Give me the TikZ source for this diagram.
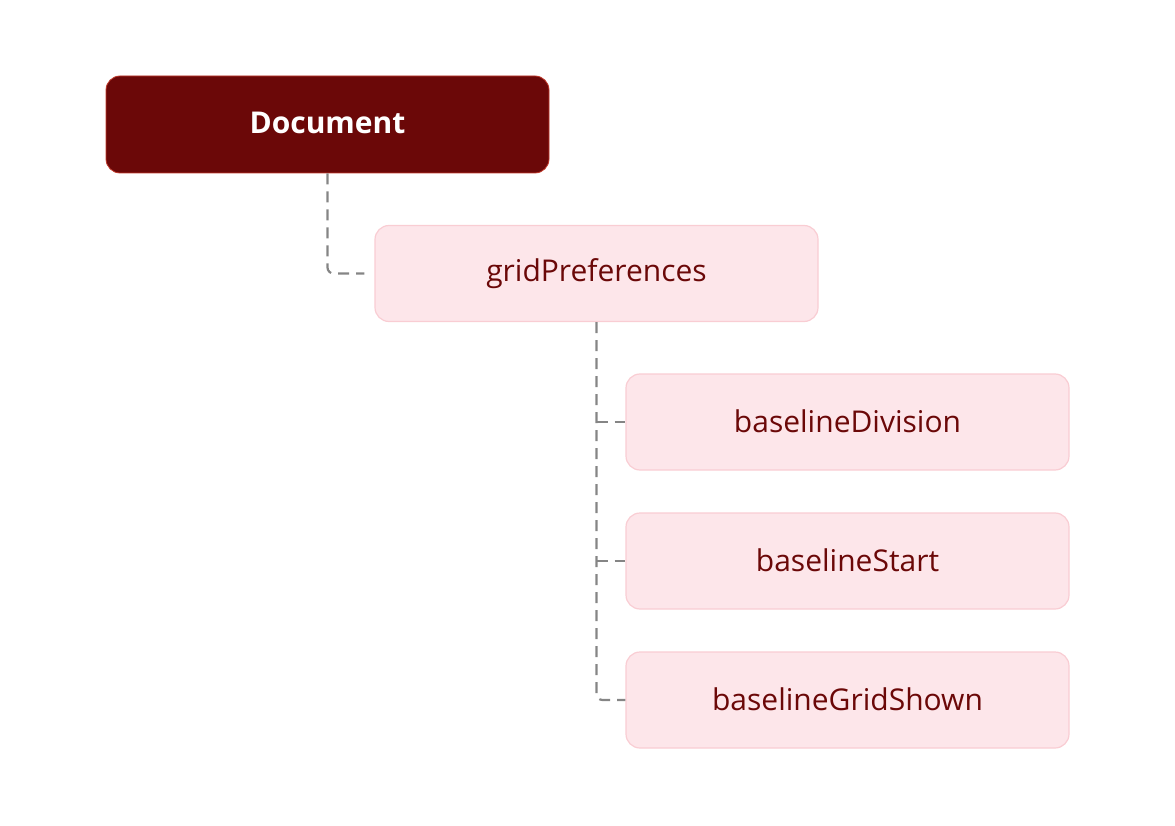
\documentclass[tikz,border=0pt]{standalone}
\usepackage{fontspec}
\setmainfont{Open Sans}
\definecolor{rootfill}{HTML}{6B0808}
\definecolor{rootdraw}{HTML}{C0392B}
\definecolor{kidfill}{HTML}{FDE6EA}
\definecolor{kiddraw}{HTML}{F9CDD3}
\definecolor{kidtext}{HTML}{6B0808}
\definecolor{linkgray}{HTML}{858585}
\begin{document}
\begin{tikzpicture}[x=1pt,y=-1pt,
  rootbox/.style={draw=rootdraw,line width=0.8pt,fill=rootfill,rounded corners=14pt,
    minimum width=443pt,minimum height=97pt,text=white,font=\fontsize{30}{34}\selectfont\bfseries,inner sep=0pt},
  kidbox/.style={draw=kiddraw,line width=1.2pt,fill=kidfill,rounded corners=14pt,
    minimum width=443pt,minimum height=96pt,text=kidtext,font=\fontsize{30}{34}\selectfont,inner sep=0pt},
  link/.style={draw=linkgray,line width=2.2pt,dash pattern=on 11pt off 7pt,rounded corners=6pt}]
\useasboundingbox (0,0) rectangle (1175,826);
\node[rootbox] (doc) at (327.5,124.5) {\raisebox{3pt}{Document}};
\node[kidbox] (grid) at (596.5,273.5) {gridPreferences};
\node[kidbox] (bd) at (847.5,422) {\raisebox{2.5pt}{baselineDivision}};
\node[kidbox] (bs) at (847.5,561) {\raisebox{2.5pt}{baselineStart}};
\node[kidbox] (bg) at (847.5,700) {\raisebox{2.5pt}{baselineGridShown}};
\coordinate (j1) at (doc.south |- grid.west);
\draw[link] (doc.south) -- (j1) -- ([xshift=-10pt]grid.west);
\coordinate (j2) at (grid.south |- bg.west);
\draw[link] (grid.south) -- (j2) -- (bg.west);
\draw[link] (grid.south |- bd.west) -- (bd.west);
\draw[link] (grid.south |- bs.west) -- (bs.west);
\end{tikzpicture}
\end{document}
